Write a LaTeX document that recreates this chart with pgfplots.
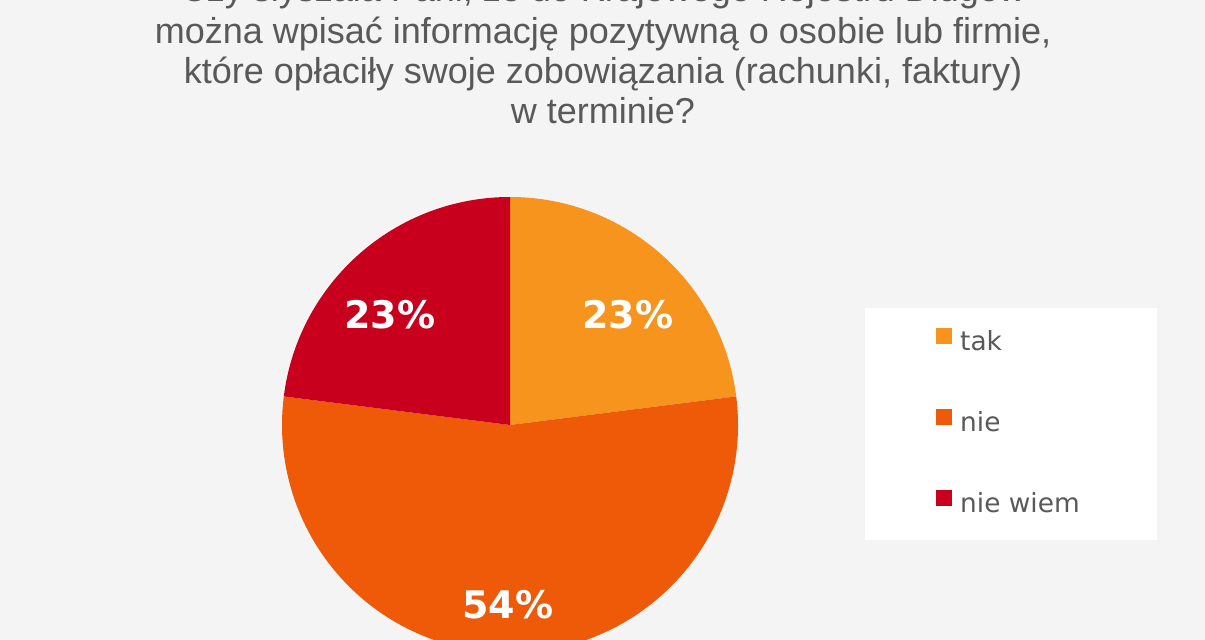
\documentclass[border=0pt]{standalone}
\usepackage{pgfplots}
\pgfplotsset{compat=1.18}
\usepackage{pgfplotstable}
\usepackage{fontspec}
\setmainfont{Liberation Sans}
\newfontfamily\dejavu{DejaVu Sans}
\definecolor{bg}{HTML}{F4F4F4}
\definecolor{ctak}{HTML}{F7941D}
\definecolor{cnie}{HTML}{EE5A08}
\definecolor{cniewiem}{HTML}{C8001E}
\definecolor{txt}{HTML}{595959}

\pgfplotstableread[col sep=comma]{
label,value,lx,ly
tak,23,628,315
nie,54,508,605
nie wiem,23,390,315
}\piedata

\pgfplotstablegetelem{0}{value}\of\piedata \let\va\pgfplotsretval
\pgfplotstablegetelem{1}{value}\of\piedata \let\vb\pgfplotsretval
\pgfplotstablegetelem{2}{value}\of\piedata \let\vc\pgfplotsretval
\pgfplotstablegetelem{0}{lx}\of\piedata \let\lxa\pgfplotsretval
\pgfplotstablegetelem{1}{lx}\of\piedata \let\lxb\pgfplotsretval
\pgfplotstablegetelem{2}{lx}\of\piedata \let\lxc\pgfplotsretval
\pgfplotstablegetelem{0}{ly}\of\piedata \let\lya\pgfplotsretval
\pgfplotstablegetelem{1}{ly}\of\piedata \let\lyb\pgfplotsretval
\pgfplotstablegetelem{2}{ly}\of\piedata \let\lyc\pgfplotsretval
\pgfmathsetmacro\aA{90}
\pgfmathsetmacro\aB{\aA-3.6*\va}
\pgfmathsetmacro\aC{\aB-3.6*\vb}
\pgfmathsetmacro\aD{\aC-3.6*\vc}

\begin{document}
\begin{tikzpicture}
\useasboundingbox (0,0) rectangle (602.5pt,320pt);
\clip (0,0) rectangle (602.5pt,320pt);
\fill[bg] (0,0) rectangle (602.5pt,320pt);
\begin{axis}[
  at={(0,0)}, anchor=south west,
  scale only axis, width=602.5pt, height=320pt,
  xmin=0, xmax=1205, ymin=0, ymax=640, y dir=reverse,
  hide axis, clip=false,
  legend style={at={(axis cs:930,423)}, anchor=west, draw=none, fill=none,
    font=\dejavu\fontsize{13.2}{15}\selectfont, text=txt,
    row sep=26.25pt,
    nodes={inner sep=0pt, text height=10pt, text depth=3pt},
    /tikz/every odd column/.append style={column sep=4pt}},
  legend cell align=left,
]
\fill[white] (axis cs:865,308) rectangle (axis cs:1157,540);
% pie slices
\fill[ctak] (axis cs:510,425) -- ++(\aA:114pt) arc[start angle=\aA, end angle=\aB, radius=114pt] -- cycle;
\fill[cnie] (axis cs:510,425) -- ++(\aB:114pt) arc[start angle=\aB, end angle=\aC, radius=114pt] -- cycle;
\fill[cniewiem] (axis cs:510,425) -- ++(\aC:114pt) arc[start angle=\aC, end angle=\aD, radius=114pt] -- cycle;
% data labels
\node[white, font=\dejavu\bfseries\fontsize{19}{22}\selectfont] at (axis cs:\lxa,\lya) {\va\%};
\node[white, font=\dejavu\bfseries\fontsize{19}{22}\selectfont] at (axis cs:\lxb,\lyb) {\vb\%};
\node[white, font=\dejavu\bfseries\fontsize{19}{22}\selectfont] at (axis cs:\lxc,\lyc) {\vc\%};
% title
\node[txt, anchor=base, font=\fontsize{18}{20.5}\selectfont, inner sep=0] at (axis cs:603,2) {Czy słyszała Pani, że do Krajowego Rejestru Długów};
\node[txt, anchor=base, font=\fontsize{18}{20.5}\selectfont, inner sep=0] at (axis cs:603,44) {można wpisać informację pozytywną o osobie lub firmie,};
\node[txt, anchor=base, font=\fontsize{18}{20.5}\selectfont, inner sep=0] at (axis cs:603,84) {które opłaciły swoje zobowiązania (rachunki, faktury)};
\node[txt, anchor=base, font=\fontsize{18}{20.5}\selectfont, inner sep=0] at (axis cs:603,124) {w terminie?};
% legend
\addlegendimage{legend image code/.code={\fill[ctak] (0pt,0pt) rectangle (7.5pt,7.5pt);}}
\addlegendentry{tak}
\addlegendimage{legend image code/.code={\fill[cnie] (0pt,0pt) rectangle (7.5pt,7.5pt);}}
\addlegendentry{nie}
\addlegendimage{legend image code/.code={\fill[cniewiem] (0pt,0pt) rectangle (7.5pt,7.5pt);}}
\addlegendentry{nie wiem}
\end{axis}
\end{tikzpicture}
\end{document}
